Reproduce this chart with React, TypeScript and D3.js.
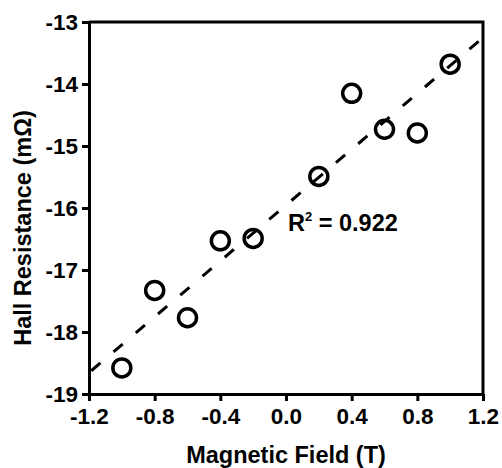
import React, { useEffect, useRef } from "react";
import * as d3 from "d3";

const fieldT = [-1.0, -0.8, -0.6, -0.4, -0.2, 0.2, 0.4, 0.6, 0.8, 1.0];
const hallRes = [-18.58, -17.33, -17.77, -16.53, -16.49, -15.49, -14.15, -14.73, -14.79, -13.68];
const xTicks = [-1.2, -0.8, -0.4, 0.0, 0.4, 0.8, 1.2];
const yTicks = [-19, -18, -17, -16, -15, -14, -13];
const rSquared = "0.922";

const W = 502;
const H = 468;
const M = { left: 89, right: 19, top: 22, bottom: 74 };
const FONT = "'Liberation Sans', Arial, Helvetica, sans-serif";

export default function App() {
  const ref = useRef<SVGSVGElement>(null);

  useEffect(() => {
    const svg = d3.select(ref.current);
    svg.selectAll("*").remove();

    const x = d3.scaleLinear().domain([-1.2, 1.2]).range([M.left, W - M.right]);
    const y = d3.scaleLinear().domain([-19, -13]).range([H - M.bottom, M.top]);

    // least-squares fit
    const n = fieldT.length;
    const mx = d3.mean(fieldT)!;
    const my = d3.mean(hallRes)!;
    let sxy = 0, sxx = 0;
    for (let i = 0; i < n; i++) {
      sxy += (fieldT[i] - mx) * (hallRes[i] - my);
      sxx += (fieldT[i] - mx) ** 2;
    }
    const slope = sxy / sxx;
    const icpt = my - slope * mx;
    const fitX = [-1.2, 1.2];
    const line = d3
      .line<number>()
      .x((d) => x(d))
      .y((d) => y(icpt + slope * d));

    svg
      .append("path")
      .attr("d", line(fitX))
      .attr("fill", "none")
      .attr("stroke", "#000")
      .attr("stroke-width", 3)
      .attr("stroke-dasharray", "12 17.2")
      .attr("stroke-dashoffset", -3);

    // points
    svg
      .append("g")
      .selectAll("circle")
      .data(fieldT)
      .join("circle")
      .attr("cx", (d) => x(d))
      .attr("cy", (_d, i) => y(hallRes[i]))
      .attr("r", 9)
      .attr("fill", "none")
      .attr("stroke", "#000")
      .attr("stroke-width", 3.5);

    // axes
    const xAxis = svg
      .append("g")
      .attr("transform", `translate(0,${H - M.bottom})`)
      .call(
        d3
          .axisBottom(x)
          .tickValues(xTicks)
          .tickFormat(d3.format(".1f"))
          .tickSizeInner(7)
          .tickSizeOuter(0)
          .tickPadding(7)
      );
    const yAxis = svg
      .append("g")
      .attr("transform", `translate(${M.left},0)`)
      .call(
        d3
          .axisLeft(y)
          .tickValues(yTicks)
          .tickFormat(d3.format("d"))
          .tickSizeInner(7)
          .tickSizeOuter(0)
          .tickPadding(4)
      );
    [xAxis, yAxis].forEach((g) => {
      g.select(".domain").attr("stroke", "#000").attr("stroke-width", 3);
      g.selectAll(".tick line").attr("stroke", "#000").attr("stroke-width", 3);
      g.selectAll(".tick text")
        .attr("fill", "#000")
        .style("font-family", FONT)
        .style("font-weight", "bold")
        .style("font-size", "22.5px");
    });
    yAxis.selectAll(".tick text").text((d: any) => d3.format("d")(d).replace("−", "-"));
    xAxis.selectAll(".tick text").text((d: any) => d3.format(".1f")(d).replace("−", "-"));

    // top & right border
    svg
      .append("path")
      .attr("d", `M${M.left},${M.top}H${W - M.right}V${H - M.bottom}`)
      .attr("fill", "none")
      .attr("stroke", "#000")
      .attr("stroke-width", 3);

    // titles
    svg
      .append("text")
      .attr("x", (M.left + W - M.right) / 2)
      .attr("y", 463)
      .attr("text-anchor", "middle")
      .style("font-family", FONT)
      .style("font-weight", "bold")
      .style("font-size", "23.5px")
      .text("Magnetic Field (T)");

    svg
      .append("text")
      .attr("transform", `translate(31,228) rotate(-90)`)
      .attr("text-anchor", "middle")
      .style("font-family", FONT)
      .style("font-weight", "bold")
      .style("font-size", "23.5px")
      .text("Hall Resistance (mΩ)");

    const rt = svg
      .append("text")
      .attr("x", 288)
      .attr("y", 231)
      .style("font-family", FONT)
      .style("font-weight", "bold")
      .style("font-size", "23.5px");
    rt.append("tspan").text("R");
    rt.append("tspan").attr("dy", -10).style("font-size", "13px").text("2");
    rt.append("tspan").attr("dy", 10).text(` = ${rSquared}`);
  }, []);

  return (
    <svg
      ref={ref}
      width={W}
      height={H}
      style={{ position: "absolute", left: 0, top: 0, background: "#fff" }}
    />
  );
}
